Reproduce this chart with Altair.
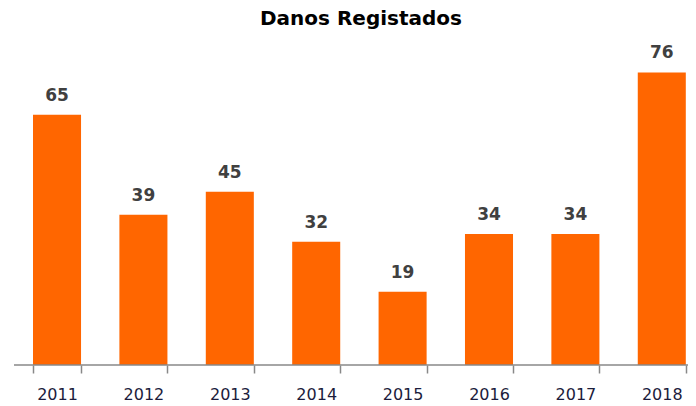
import altair as alt
import pandas as pd

years = ["2011", "2012", "2013", "2014", "2015", "2016", "2017", "2018"]
values = [65, 39, 45, 32, 19, 34, 34, 76]

df = pd.DataFrame({"year": years, "value": values})

W, H = 665, 308

x = alt.X("year:N", sort=years, title=None,
          scale=alt.Scale(paddingInner=0.444, paddingOuter=0.0706, align=0.82),
          axis=alt.Axis(labelAngle=0, labelFont="DejaVu Sans", labelFontSize=16,
                        labelColor="#1c1c3c", labelPadding=13.5, tickBand="extent",
                        tickSize=8, tickColor="#888888", domain=False,
                        tickWidth=1.5))
y = alt.Y("value:Q", scale=alt.Scale(domain=[0, 80]), axis=None)

bars = alt.Chart(df).mark_bar(color="#FF6600").encode(x=x, y=y)
labels = alt.Chart(df).mark_text(dy=-14, baseline="alphabetic", font="DejaVu Sans",
                                 fontSize=17, fontWeight="bold", color="#404040").encode(
    x=x, y=y, text="value:Q")
baseline = alt.Chart(pd.DataFrame({"k": [0]})).mark_rule(
    color="#888888", strokeWidth=1.5).encode(
    x=alt.value(-9), x2=alt.value(W), y=alt.value(H))

chart = (bars + labels + baseline).properties(
    width=W, height=H,
    autosize=alt.AutoSizeParams(type="none"),
    padding={"left": 15, "top": 49, "right": 0, "bottom": 41},
    title=alt.TitleParams("Danos Registados", font="DejaVu Sans", fontSize=20,
                          fontWeight="bold", color="#000000", offset=15.5,
                          anchor="start", frame="group", dx=237),
).configure_view(stroke=None)

chart.save("out.html", embed_options={"renderer": "svg", "actions": False})
